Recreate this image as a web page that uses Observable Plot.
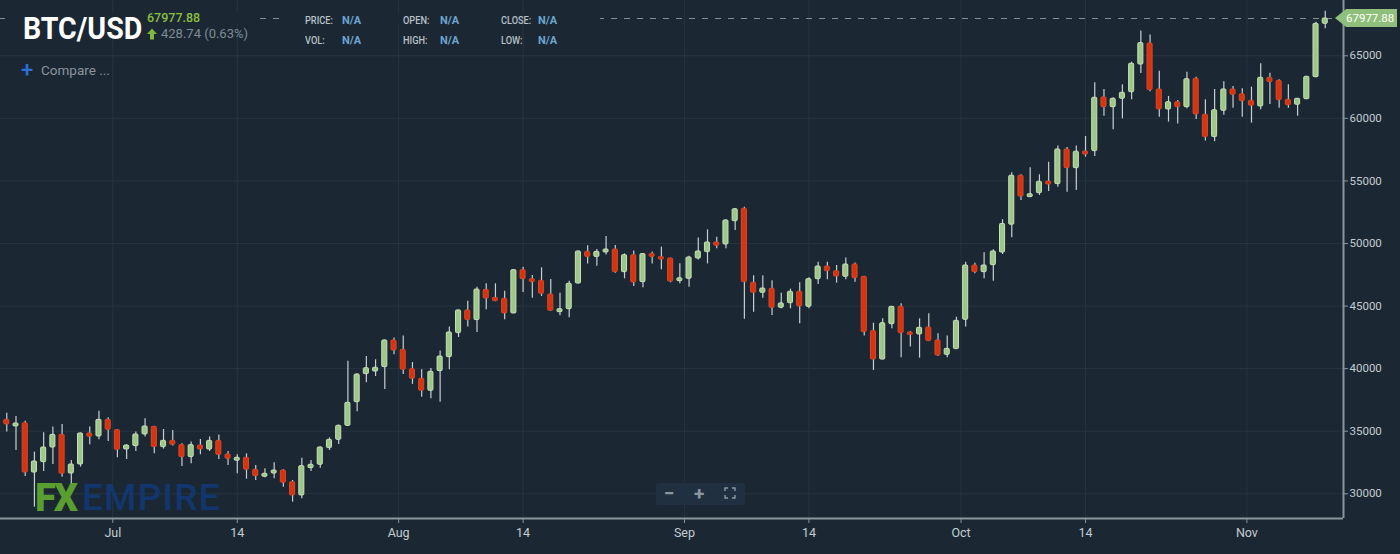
<!DOCTYPE html>
<html>
<head>
<meta charset="utf-8">
<script src="https://cdn.jsdelivr.net/npm/d3@7"></script>
<script src="https://cdn.jsdelivr.net/npm/@observablehq/plot@0.6"></script>
<style>
html,body{margin:0;padding:0;background:#1b2834;overflow:hidden}
#wrap{position:relative;width:1400px;height:554px;font-family:Roboto,sans-serif}
#wrap svg{display:block}
.t{position:absolute;white-space:nowrap;line-height:1}
.patch{position:absolute;background:#1b2834;top:13px;height:10px}
.lab{font-size:10px;font-weight:500;color:#b9c1c7;transform-origin:left center;transform:scaleX(.92)}
.na{font-size:11px;font-weight:700;color:#6da5d0}
</style>
</head>
<body>
<div id="wrap"></div>
<script>
const firstDay = "2021-06-19T12:00:00Z";
const opens = [
35910,35380,35640,31700,32530,33700,34710,31620,32340,34820,
34580,35910,35090,33540,33810,34740,35350,33730,34230,33890,
32930,33860,33540,34230,33140,32640,32880,31920,31360,31620,
31860,30930,29870,32050,32320,33650,34310,35430,37320,39560,
39770,40120,42250,41500,39960,39190,38230,39800,40920,42840,
44650,43880,46300,45660,45580,44410,47870,47150,47020,45930,
44510,44750,46800,49330,48930,49280,49520,47710,49070,46910,
49150,48930,48800,46990,47180,48800,49310,50080,49920,51780,
52770,46860,46060,46380,44860,45230,46140,44940,47150,48160,
47790,47340,48320,47340,43000,40730,43550,44940,42890,42730,
43290,42250,41100,41560,43900,48240,47710,48270,49280,51500,
55410,53700,54020,54950,54740,57510,56020,57350,57380,61670,
60890,61560,62090,64300,65980,62310,60710,61290,60890,63160,
60280,58500,60600,62310,61930,61400,60950,63240,63000,61480,
61080,61530,63290,67550];
const closes = [
35540,35620,31700,32580,33700,34710,31600,32340,34820,34550,
35910,35110,33510,33860,34740,35380,33730,34230,33910,32930,
33890,33540,34230,33110,32800,32880,31920,31410,31600,31860,
30880,29870,32210,32320,33700,34310,35430,37270,39530,40040,
40070,42250,41450,39910,39190,38230,39750,40970,42890,44650,
43880,46320,45600,45390,44410,47870,47150,46910,45980,44620,
44750,46780,49360,48930,49330,49520,47710,49070,46880,49150,
48930,48720,46960,47220,48880,49360,50080,49810,51840,52740,
46910,46060,46400,44860,45210,46140,44970,47150,48160,47790,
47360,48320,47230,42920,40730,43630,44940,42840,42680,43260,
42200,41050,41580,43820,48240,47710,48240,49360,51560,55410,
53750,53940,54930,54710,57510,56020,57330,57110,61640,60890,
61560,62040,64360,66010,62250,60710,61290,60890,63130,60310,
58500,60650,62310,61880,61370,61000,63240,62890,61450,61050,
61560,63320,67550,67977.88];
const highs = [
36440,36180,35800,33330,34870,35330,35540,32660,34850,35330,
36600,36070,35110,33910,34930,35990,35380,35140,35060,33990,
34130,34340,34530,34690,33380,33110,33190,32260,32000,32480,
31920,31060,32850,32660,33730,34470,35500,40600,39590,40970,
40710,42290,42440,42600,40490,39910,40010,41400,43320,44680,
45390,46510,46780,46780,46190,47900,48110,47440,48060,47120,
46030,46990,49390,49810,49520,50560,49840,49170,49390,49170,
49310,49710,48830,48380,48990,50430,51090,50500,51890,52770,
52900,47420,47420,47020,46030,46350,46860,47260,48510,48510,
48240,48850,48450,47370,43630,43980,44970,45180,42970,43980,
44380,42780,42600,44110,48510,48430,49250,49490,51900,55650,
55490,56050,55490,56500,57780,57670,57780,58550,62840,62310,
61640,62680,64490,66970,66650,63770,61750,61430,63690,63290,
61480,62310,62920,62540,62360,62490,64360,63610,63080,62680,
61590,63350,67680,68560];
const lows = [
34930,33460,31380,28930,31780,32340,31330,30270,32130,33910,
34310,34180,32880,32740,33380,34530,33190,33570,33810,32180,
32400,33110,33380,32740,32260,31600,31170,31060,31280,31200,
30530,29330,29600,31780,32050,33460,33940,35380,36550,38870,
39370,38340,41100,39530,38740,37720,37590,37320,39910,42490,
43320,42890,44700,45350,43900,44380,46090,45630,45770,44570,
44220,44060,46780,48370,48190,49090,47630,47180,46560,46460,
48370,47900,46860,46780,46510,48690,48370,49570,49570,51040,
43950,44510,45630,44250,44780,44780,43580,44780,46720,47100,
46830,47100,46910,42600,39850,40700,43180,40870,41720,40840,
42170,40970,40870,41530,43320,47580,47180,46990,49120,50450,
53430,53690,53840,54160,54500,54100,54240,56900,56950,60170,
59080,59960,61480,63580,62120,60090,59700,59540,60760,59910,
58180,58120,60250,60810,60090,59620,60680,61110,60810,60810,
60170,61500,63240,67150];
const priceTicks = [30000,35000,40000,45000,50000,55000,60000,65000];
const timeTickDates = ["2021-07-01T00:00Z","2021-07-14T12:00Z","2021-08-01T00:00Z","2021-08-14T12:00Z","2021-09-01T00:00Z","2021-09-14T12:00Z","2021-10-01T00:00Z","2021-10-14T12:00Z","2021-11-01T00:00Z"];
const timeTickLabels = ["Jul","14","Aug","14","Sep","14","Oct","14","Nov"];
const lastPrice = 67977.88;
const xDomain = ["2021-06-18T19:40Z","2021-11-11T11:30Z"];
const yDomain = [28026,69415];

const day0 = new Date(firstDay);
const candles = opens.map((o,i)=>({
  date: d3.utcDay.offset(day0,i), open:o, close:closes[i], high:highs[i], low:lows[i]
}));
const tickDates = timeTickDates.map(s=>new Date(s));
const labelOf = new Map(tickDates.map((d,i)=>[+d,timeTickLabels[i]]));
const up = d=>d.close>=d.open;
const halfBody = 6.6*3600*1000;
const gridCol = "#26343f", axisCol = "#8a959c", textCol = "#c4cbd0";

const chart = Plot.plot({
  width:1400, height:554,
  marginTop:0, marginLeft:0, marginRight:57, marginBottom:36,
  style:{background:"#1b2834",fontFamily:"Roboto, sans-serif",overflow:"visible"},
  x:{type:"utc",domain:xDomain.map(s=>new Date(s))},
  y:{domain:yDomain},
  marks:[
    Plot.gridX(tickDates,{stroke:gridCol,strokeOpacity:1,strokeWidth:1}),
    Plot.gridY(priceTicks,{stroke:gridCol,strokeOpacity:1,strokeWidth:1}),
    Plot.ruleY([lastPrice],{stroke:"#868f96",strokeDasharray:"6 7",strokeWidth:1.2}),
    Plot.ruleX(candles,{x:"date",y1:"low",y2:"high",stroke:"#c8ced2",strokeWidth:1.2}),
    Plot.rect(candles,{
      x1:d=>new Date(+d.date-halfBody), x2:d=>new Date(+d.date+halfBody),
      y1:"open", y2:"close",
      fill:d=>up(d)?"#9dc788":"#d5340f",
      stroke:d=>up(d)?"#c9e0b9":"#d9482a",
      strokeWidth:1, rx:1
    }),
    Plot.axisX(tickDates,{anchor:"bottom",label:null,tickSize:5,tickPadding:5,fontSize:12.5,stroke:axisCol,fill:textCol,
      tickFormat:d=>labelOf.get(+d)}),
    Plot.axisY(priceTicks,{anchor:"right",label:null,tickSize:4,tickPadding:2,fontSize:11.5,stroke:axisCol,fill:textCol,
      tickFormat:d=>String(d)}),
    Plot.ruleY([yDomain[0]],{stroke:axisCol,strokeWidth:2}),
    Plot.ruleX([xDomain[1]].map(s=>new Date(s)),{stroke:axisCol,strokeWidth:2})
  ]
});
const wrap = document.getElementById("wrap");
wrap.appendChild(chart);

function add(cls,style,html){
  const e=document.createElement("div");
  e.className=cls; e.style.cssText=style; e.innerHTML=html; wrap.appendChild(e); return e;
}
// dashed price line is hidden behind the header blocks
add("patch","left:5px;width:250px","");
add("patch","left:282px;width:318px","");

add("t","left:23px;top:13px;font-size:31px;font-weight:700;color:#fff;transform-origin:left top;transform:scaleX(.92)","BTC/USD");
add("t","left:147px;top:12px;font-size:12.5px;font-weight:500;color:#8cbf3f","67977.88");
add("t","left:146px;top:28px;width:12px;height:12px",'<svg width="12" height="12" viewBox="0 0 12 12"><path d="M6 0.5L11 6H8V11.5H4V6H1Z" fill="#7fb83c"/></svg>');
add("t","left:161px;top:27px;font-size:13px;color:#7f8b95","428.74 (0.63%)");
add("t","left:21px;top:59px;font-size:22px;color:#2c6fd8;font-weight:500","+");
add("t","left:41px;top:64px;font-size:13.5px;color:#8a949c","Compare ...");

[[305,16,"PRICE:"],[342,15,"N/A"],[403,16,"OPEN:"],[440,15,"N/A"],[501,16,"CLOSE:"],[538,15,"N/A"],
 [305,36,"VOL:"],[342,35,"N/A"],[403,36,"HIGH:"],[440,35,"N/A"],[501,36,"LOW:"],[538,35,"N/A"]]
 .forEach(([x,y,s])=>add("t "+(s==="N/A"?"na":"lab"),`left:${x}px;top:${y}px`,s));

add("t","left:1335px;top:9px;width:62px;height:18px;background:#8fbf7a;clip-path:polygon(0 50%,18% 0,100% 0,100% 100%,18% 100%);color:#fff;font-size:11.5px;line-height:18px;text-indent:11px","67977.88");

add("t","left:35px;top:479px;font-size:38px;font-weight:900;color:#5a9e2f;letter-spacing:-2px","FX");
add("t","left:82px;top:479px;font-size:37px;font-weight:500;color:#12366e;letter-spacing:1.2px","EMPIRE");

add("t","left:656px;top:483px;width:89px;height:22px;background:#213040;border-radius:3px","");
add("t","left:664px;top:484px;font-size:19px;font-weight:700;color:#8c98a0","&minus;");
add("t","left:694px;top:484px;font-size:19px;font-weight:700;color:#8c98a0","+");
add("t","left:724px;top:487px;width:12px;height:12px",'<svg width="12" height="12" viewBox="0 0 12 12" fill="none" stroke="#8c98a0" stroke-width="1.4"><path d="M1 4V1H4M8 1H11V4M11 8V11H8M4 11H1V8"/></svg>');
</script>
</body>
</html>
